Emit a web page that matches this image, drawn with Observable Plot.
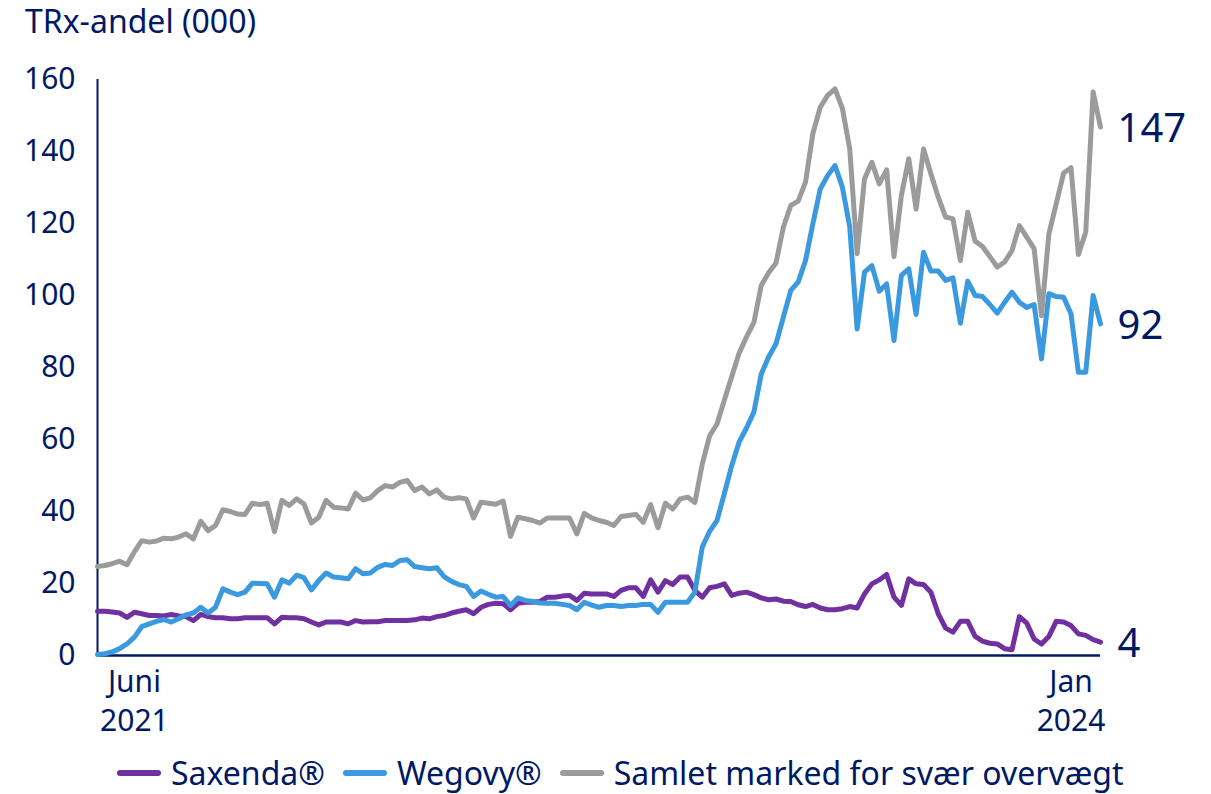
<!DOCTYPE html>
<html>
<head>
<meta charset="utf-8">
<script src="https://cdn.jsdelivr.net/npm/d3@7"></script>
<script src="https://cdn.jsdelivr.net/npm/@observablehq/plot@0.6"></script>
<style>
  html, body { margin: 0; padding: 0; background: #fff; }
  body { width: 1211px; height: 794px; overflow: hidden; font-family: "Noto Sans", sans-serif; color: #001965; }
  #title { height: 50px; box-sizing: border-box; padding: 5px 0 0 25px; font-size: 32px; line-height: 1; }
  #legend { height: 44px; box-sizing: border-box; padding: 2px 0 0 117px; display: flex; align-items: center; font-size: 32px; line-height: 1; }
  .item { display: flex; align-items: center; margin-right: 18px; }
  .sw { width: 44px; height: 6px; border-radius: 3px; margin-right: 10px; }
</style>
</head>
<body>
<div id="title">TRx-andel (000)</div>
<div id="chart"></div>
<div id="legend"></div>
<script>
// Weekly index 0..136 (June 2021 → Jan 2024), values in thousands of TRx
const seriesNames = ["Saxenda®", "Wegovy®", "Samlet marked for svær overvægt"];
const seriesColors = ["#7030a0", "#3b99e0", "#9b9b9b"];

const saxenda = [
  12.3,12.3,12.1,11.8,10.6,12.0,11.6,11.1,11.1,11.0,
  11.4,11.0,10.8,9.7,11.4,10.8,10.5,10.5,10.2,10.2,
  10.5,10.5,10.5,10.5,8.8,10.6,10.5,10.5,10.2,9.3,
  8.5,9.3,9.3,9.3,8.8,9.7,9.3,9.4,9.4,9.7,
  9.7,9.7,9.7,9.9,10.4,10.2,10.8,11.1,11.8,12.3,
  12.7,11.6,13.4,14.2,14.5,14.4,12.7,14.5,14.8,14.8,
  15.0,16.2,16.2,16.5,16.7,15.3,17.3,17.1,17.1,17.1,
  16.4,18.1,18.8,18.8,16.4,21.0,17.6,20.8,19.7,21.8,
  21.8,18.1,16.2,18.8,19.2,19.9,16.7,17.3,17.6,16.9,
  16.0,15.5,15.7,15.1,15.0,14.1,13.6,14.2,13.2,12.7,
  12.7,13.0,13.6,13.2,17.1,19.9,21.0,22.5,16.2,13.9,
  21.3,19.9,19.7,17.6,11.6,7.6,6.5,9.5,9.5,5.3,
  4.0,3.4,3.2,1.9,1.6,10.8,9.0,4.6,3.2,5.3,
  9.5,9.3,8.3,6.0,5.6,4.4,3.7
];
const wegovy = [
  0.3,0.5,1.0,1.9,3.2,5.1,8.0,8.8,9.5,10.0,
  9.3,10.2,11.3,11.8,13.4,11.8,13.4,18.5,17.6,16.9,
  17.6,20.1,20.0,19.9,16.2,21.0,20.1,22.3,21.6,18.2,
  20.8,22.9,21.8,21.6,21.3,24.1,22.7,22.9,24.5,25.3,
  25.0,26.4,26.6,24.7,24.4,24.1,24.4,21.9,20.6,19.7,
  19.2,16.4,17.9,17.0,16.2,16.4,13.9,16.0,15.3,15.0,
  14.6,14.5,14.5,14.2,13.9,12.7,14.8,14.0,13.4,13.9,
  13.9,13.6,13.9,13.9,14.2,14.2,12.0,14.8,14.8,14.8,
  14.8,17.6,30.1,34.5,37.5,45.0,52.8,59.3,63.2,67.6,
  78.2,82.9,86.6,94.0,101.4,103.7,109.7,119.9,129.6,133.3,
  136.1,130.1,119.0,90.7,106.5,108.3,101.2,103.2,87.5,105.6,
  107.4,94.7,112.0,106.8,106.8,104.2,104.9,92.3,104.0,100.0,
  99.7,97.5,95.1,98.1,100.9,98.1,96.7,97.5,82.4,100.5,
  99.7,99.5,94.9,78.7,78.7,100.0,92.1
];
const samlet = [
  24.7,25.0,25.5,26.2,25.2,28.8,31.9,31.5,31.8,32.6,
  32.4,32.9,33.8,32.4,37.3,34.7,36.1,40.5,40.0,39.3,
  39.2,42.3,41.9,42.3,34.4,43.1,41.7,43.5,42.1,36.8,
  38.4,43.1,41.2,41.0,40.7,45.1,43.2,43.8,45.8,47.2,
  46.8,48.1,48.6,45.8,46.8,44.9,46.0,44.0,43.5,43.8,
  43.5,38.2,42.6,42.3,42.0,42.9,33.1,38.4,38.0,37.5,
  36.8,38.2,38.2,38.2,38.2,33.8,39.5,38.2,37.5,37.0,
  36.1,38.6,38.9,39.2,37.0,41.9,35.5,42.3,40.7,43.5,
  44.0,42.5,53.2,61.0,64.3,71.0,77.5,84.0,88.5,92.5,
  102.8,106.3,109.0,119.0,125.0,126.2,131.5,145.0,152.3,155.6,
  157.4,152.0,140.7,111.6,132.4,137.0,131.0,134.9,110.8,127.8,
  138.0,124.0,140.7,133.8,127.3,121.8,121.3,109.7,123.1,115.1,
  113.6,110.8,107.9,109.3,112.5,119.4,116.2,113.0,94.4,117.1,
  125.5,134.0,135.5,111.4,117.6,156.5,146.8
];
const yTicks = [0, 20, 40, 60, 80, 100, 120, 140, 160];
const xTickWeeks = [5, 132];
const xTickLabels = ["Juni\n2021", "Jan\n2024"];

const navy = "#001965";
const allSeries = [saxenda, wegovy, samlet];
const rows = allSeries.flatMap((arr, s) => arr.map((v, i) => ({i, v, s: seriesNames[s]})));
const lastRows = allSeries.map((arr, s) => ({i: arr.length - 1, v: arr[arr.length - 1], s: seriesNames[s]}));
const colorOf = Object.fromEntries(seriesNames.map((n, k) => [n, seriesColors[k]]));
const nLast = saxenda.length - 1;

const chart = Plot.plot({
  width: 1211,
  height: 700,
  marginLeft: 97,
  marginRight: 111,
  marginTop: 29,
  marginBottom: 95,
  style: {fontFamily: "Noto Sans, sans-serif", fontSize: "30px", color: navy, background: "white"},
  x: {domain: [0, nLast], axis: null},
  y: {domain: [0, 160], axis: null},
  marks: [
    Plot.axisY({ticks: yTicks, tickSize: 0, tickPadding: 22, fontSize: 30, fill: navy, label: null}),
    Plot.axisX({ticks: xTickWeeks, tickFormat: d => xTickLabels[xTickWeeks.indexOf(d)], tickSize: 0, tickPadding: 9, fontSize: 30, lineHeight: 1.3, fill: navy, label: null}),
    Plot.ruleY([0], {stroke: navy, strokeWidth: 2.5}),
    Plot.ruleX([0], {y1: 0, y2: 160, stroke: navy, strokeWidth: 2}),
    ...seriesNames.map(n => Plot.line(rows.filter(r => r.s === n), {x: "i", y: "v", stroke: colorOf[n], strokeWidth: 5})),
    Plot.text(lastRows, {x: "i", y: "v", text: d => String(Math.round(d.v)), dx: 17, dy: 2, textAnchor: "start", fontSize: 40, fill: navy})
  ]
});
document.getElementById("chart").appendChild(chart);

const legend = document.getElementById("legend");
seriesNames.forEach((n, k) => {
  const item = document.createElement("div");
  item.className = "item";
  const sw = document.createElement("span");
  sw.className = "sw";
  sw.style.background = seriesColors[k];
  const label = document.createElement("span");
  label.textContent = n;
  item.appendChild(sw);
  item.appendChild(label);
  legend.appendChild(item);
});
</script>
</body>
</html>
